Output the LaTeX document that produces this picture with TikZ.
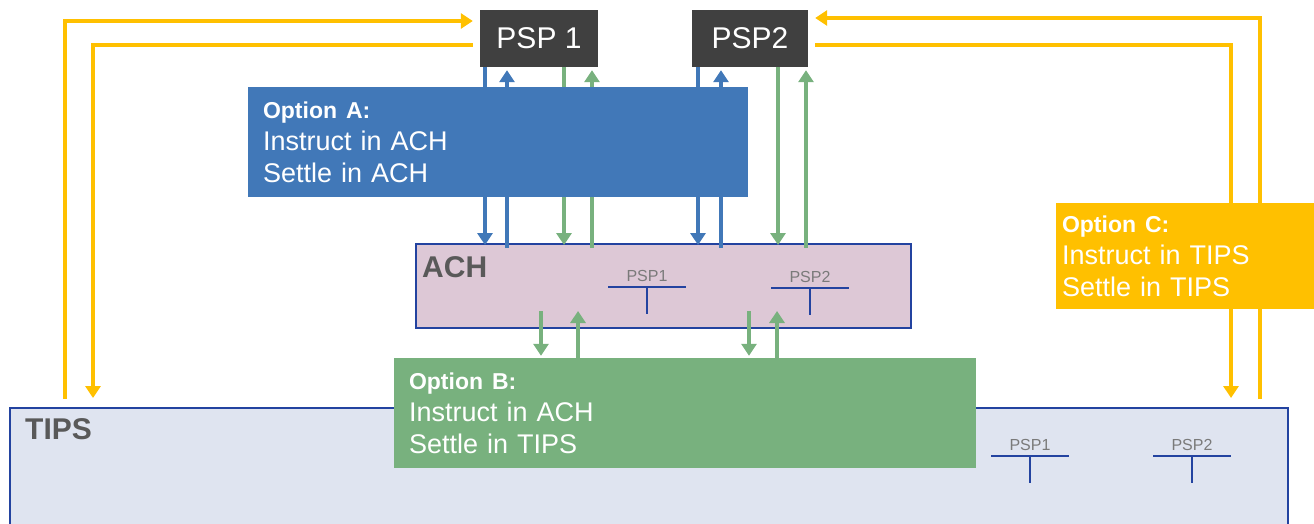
\documentclass[tikz,border=0pt]{standalone}
\usepackage{fontspec}
\setmainfont{Liberation Sans}
\usetikzlibrary{arrows.meta}
\definecolor{optyellow}{HTML}{FFC000}
\definecolor{optblue}{HTML}{4178B8}
\definecolor{optgreen}{HTML}{78B17E}
\definecolor{pspgray}{HTML}{404040}
\definecolor{lblgray}{HTML}{595959}
\definecolor{ledgray}{HTML}{7A7A7A}
\definecolor{edgeblue}{HTML}{2343A0}
\definecolor{achpink}{HTML}{DDC8D6}
\definecolor{tipsblue}{HTML}{DFE4F0}

\begin{document}
\begin{tikzpicture}[x=1pt,y=-1pt,
    pspbox/.style={fill=pspgray,text=white,inner sep=0pt,minimum height=57pt,font=\fontsize{30}{30}\selectfont},
    system/.style={draw=edgeblue,line width=2pt,inner sep=0pt},
    syslbl/.style={anchor=west,inner sep=0pt,text=lblgray,font=\bfseries\fontsize{30}{30}\selectfont},
    option/.style={text=white,align=left,inner xsep=15pt,inner ysep=0pt,font=\fontsize{27}{32}\selectfont},
    ledlbl/.style={inner sep=0pt,text=ledgray,font=\fontsize{16}{16}\selectfont},
    ledger/.style={draw=edgeblue,line width=2pt},
    link/.style={line width=4pt,-{Triangle[width=15pt,length=12pt]}}]
      \useasboundingbox (0,0) rectangle (1314,524);
      \clip (0,0) rectangle (1314,524);
      \node[system,fill=tipsblue,minimum width=1278pt,minimum height=132pt] (tips) at (649,474) {};
      \node[syslbl] (tipslbl) at (25,429) {TIPS};
      \node[system,fill=achpink,minimum width=495pt,minimum height=84pt] (ach) at (663.5,286) {};
      \node[syslbl] (achlbl) at (422,267) {ACH};
      \foreach \x/\y/\t in {647/276/PSP1, 810/277/PSP2, 1030/445/PSP1, 1192/445/PSP2} {
        \node[ledlbl] at (\x,\y) {\t};
        \draw[ledger] (\x-39,\y+11) -- (\x+39,\y+11) (\x,\y+11) -- (\x,\y+38);
      }
      \node[pspbox,minimum width=118pt] (psp1) at (539,38.5) {PSP 1};
      \node[pspbox,minimum width=116pt] (psp2) at (750,38.5) {PSP2};
      \node[option,fill=optgreen,text width=552pt,minimum height=110pt] (optB) at (685,413)
        {{\bfseries\fontsize{23}{32}\selectfont Option B:}\\Instruct in ACH\\Settle in TIPS};
      \foreach \x in {485,698}
        \draw[link,optblue] (\x,0 |- psp1.south) -- ([yshift=-2pt]\x,0 |- ach.north);
      \foreach \x in {507,721}
        \draw[link,optblue] ([yshift=-5pt]\x,0 |- ach.north) -- ([yshift=-3pt]\x,0 |- psp1.south);
      \foreach \x in {564,778}
        \draw[link,optgreen] (\x,0 |- psp1.south) -- ([yshift=-2pt]\x,0 |- ach.north);
      \foreach \x in {592,806}
        \draw[link,optgreen] ([yshift=-5pt]\x,0 |- ach.north) -- ([yshift=-3pt]\x,0 |- psp1.south);
      \foreach \x in {541,749}
        \draw[link,optgreen] ([yshift=18pt]\x,0 |- ach.south) -- ([yshift=2pt]\x,0 |- optB.north);
      \foreach \x in {578,777}
        \draw[link,optgreen] (\x,0 |- optB.north) -- ([yshift=18pt]\x,0 |- ach.south);
      \draw[link,optyellow] ([yshift=8pt]65,0 |- tips.north) |- ([shift={(-7pt,17.5pt)}]psp1.west);
      \draw[link,optyellow] ([shift={(-7pt,-6.5pt)}]psp1.west) -| ([yshift=9pt]93,0 |- tips.north);
      \draw[link,optyellow] ([yshift=8pt]1260,0 |- tips.north) |- ([shift={(7pt,20.5pt)}]psp2.east);
      \draw[link,optyellow] ([shift={(7pt,-6.5pt)}]psp2.east) -| ([yshift=9pt]1231,0 |- tips.north);
      \node[option,fill=optblue,text width=470pt,minimum height=110pt] (optA) at (498,142)
        {{\bfseries\fontsize{23}{32}\selectfont Option A:}\\Instruct in ACH\\Settle in ACH};
      \node[option,fill=optyellow,inner xsep=6pt,text width=288pt,minimum height=106pt] (optC) at (1206,256)
        {{\bfseries\fontsize{23}{32}\selectfont Option C:}\\Instruct in TIPS\\Settle in TIPS};
    \end{tikzpicture}
\end{document}
